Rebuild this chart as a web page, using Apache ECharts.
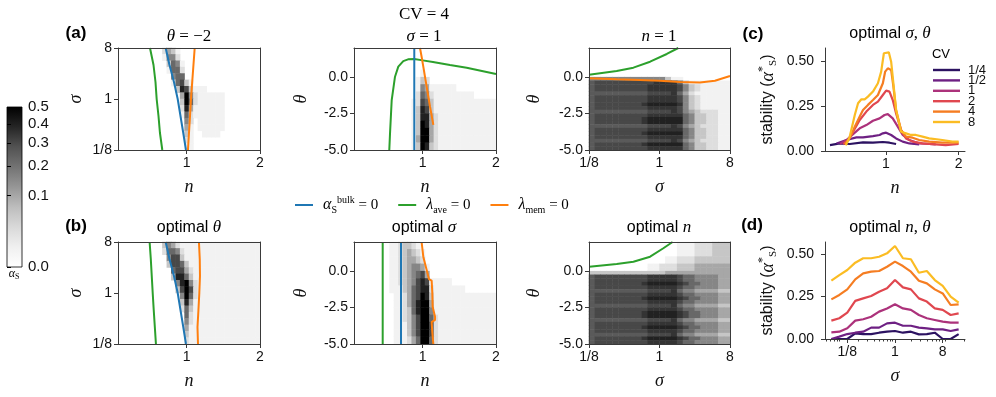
<!DOCTYPE html>
<html>
<head>
<meta charset="utf-8">
<title>stability maps, CV = 4</title>
<script src="https://cdn.jsdelivr.net/npm/echarts@6.0.0/dist/echarts.min.js"></script>
<style>
  body { margin: 0; background: #fff; }
  #main { width: 996px; height: 397px; }
</style>
</head>
<body>
<div id="main"></div>
<script>
// ---------- data ----------
// heat maps: one string per row (top row first), one char per cell = grey level
// '0'..'9' whole levels, 'a'..'i' half levels (a = 0.5 ... i = 8.5)
var a1Rows = [
  '0000000000' + '2431',
  '0000000000' + '1552',
  '00000000000' + '3651',
  '00000000000' + '1662',
  '000000000000' + '566',
  '000000000000' + '16731',
  '0000000000000' + '3873111',
  '00000000000000' + '4952' + '111111',
  '00000000000000' + '3962' + '111111',
  '00000000000000' + '284' + '1111111',
  '00000000000000' + '162' + '1111111',
  '000000000000000' + '52' + '0111111',
  '000000000000000' + '41' + '0111111',
  '000000000000000' + '31' + '001111',
  '000000000000000' + '21',
  '000000000000000' + '11'
];
var b1Rows = [
  '0000000000' + '35421' + '11111111111111111',
  '0000000000' + '26652' + '11111111111111111',
  '00000000000' + '5773' + '11111111111111111',
  '00000000000' + '37763' + '1111111111111111',
  '000000000000' + '67742' + '111111111111111',
  '000000000000' + '38863' + '111111111111111',
  '0000000000000' + '58952' + '11111111111111',
  '0000000000000' + '37972' + '11111111111111',
  '00000000000000' + '5962' + '11111111111111',
  '00000000000000' + '3841' + '11111111111111',
  '00000000000000' + '263' + '111111111111111',
  '000000000000000' + '62' + '111111111111111',
  '000000000000000' + '52' + '111111111111111',
  '000000000000000' + '41' + '111111111111111',
  '000000000000000' + '31' + '111111111111111',
  '000000000000000' + '21' + '111111111111111'
];
var a2Rows = [
  '', '', '',
  '000000000000000' + '1',
  '00000000000000' + '132',
  '00000000000000' + '1541' + '11111',
  '00000000000000' + '2652' + '111111111',
  '0000000000000' + '1' + '2763' + '11111111111111',
  '0000000000000' + '1' + '3873' + '11111111111111',
  '0000000000000' + '1' + '3884' + '2' + '1111111111111',
  '0000000000000' + '1' + '3984' + '2' + '1111111111111',
  '0000000000000' + '1' + '3994' + '2' + '1111111111111',
  '0000000000000' + '1' + '4994' + '2' + '1111111111111',
  '0000000000000' + '1' + '3983' + '2' + '1111111111111'
];
var b2Rows = [
  '00000000' + '1123321',
  '00000000' + '11234321',
  '00000000' + '11234432',
  '00000000' + '112345541',
  '00000000' + '112345674',
  '00000000' + '1123457871' + '1111',
  '00000000' + '111346788' + '2' + '1111111',
  '000000000' + '1' + '1246798' + '3' + '11111111111111',
  '000000000' + '1' + '1246899' + '4' + '11111111111111',
  '000000000' + '11' + '236899' + '5' + '11111111111111',
  '000000000' + '11' + '235799' + '6' + '2' + '1111111111111',
  '000000000' + '11' + '135799' + '7' + '2' + '1111111111111',
  '000000000' + '11' + '135799' + '7' + '2' + '1111111111111',
  '000000000' + '11' + '124699' + '6' + '2' + '1111111111111'
];
var a3Rows = [
  '', '', '', '', '', '', '', '',
  '5555555555555311',
  'g7777777777hhhh631111111',
  'g777777777hhhhh753211111',
  'g777777777hhhhh753211111',
  'gggggggggg7777h642111111',
  'g777777777hhhhh753211111',
  'g777777777hhhhh753211111',
  'g77777777h88888h53211111',
  'g777777777hhhhh753211111',
  'gggggggggg7777h754322211',
  'g777777777hhhhhh65332211',
  'g77777777h88888865332211',
  'g77777777h88888865332211',
  'gggggggggg7777h754322211',
  'g777777777hhhhhh65332211',
  'g77777777h88888865332211',
  'g777777777hhhhhh65332211',
  'gggggggggg7777h754322211',
  'g77777777h88888865332211',
  'g777777777hhhhhh65332211'
];
var b3Rows = [
  '000000000000000111222333',
  '000000000000000111222333',
  '000000000000000111222333',
  '000000000000000111222333',
  '000000000000011222333333',
  '000000000000011222333333',
  '000000000011222333444444',
  '000000000011222333444444',
  '333333333333344444444444',
  'g777777777hhhhh766555544',
  'g777777777hhhhh766555544',
  'g77777777h88888h76655544',
  'g777777777hhhhh766555544',
  'gggggggggg7777h655444433',
  'g777777777hhhhh766555544',
  'g77777777h88888h76655544',
  'g777777777hhhhh766555544',
  'gggggggggg7777h655444433',
  'g777777777hhhhh766555544',
  'g77777777h88888h76655544',
  'g77777777h88888h76655544',
  'gggggggggg7777h655444433',
  'g777777777hhhhh766555544',
  'g77777777h88888h76655544',
  'g777777777hhhhh766555544',
  'gggggggggg7777h655444433',
  'g77777777h88888h76655544',
  'g777777777hhhhh766555544'
];

// boundary curves, top row (sigma vs n)
var sigmaPts = [8, 4, 2, 1, 0.5, 0.25, 0.125];
var a1GreenN = [0.499, 0.547, 0.574, 0.590, 0.615, 0.635, 0.667];
var bulkN = [0.713, 0.765, 0.826, 0.877, 0.915, 0.953, 0.990];
var a1OrangeN = [1.109, 1.092, 1.075, 1.058, 1.045, 1.031, 1.017];
var b1GreenN = [0.494, 0.510, 0.523, 0.536, 0.550, 0.565, 0.580];
var b1OrangeN = [1.167, 1.178, 1.181, 1.172, 1.160, 1.147, 1.154];

// boundary curves, theta vs n
var a2BlueN = [0.885, 0.885], a2BlueTheta = [-5, 2];
var a2GreenN = [0.544, 0.554, 0.577, 0.622, 0.667, 0.735, 0.80, 0.885, 1.0, 1.14, 1.372, 1.6, 2.0];
var a2GreenTheta = [-5, -3.86, -1.57, 0.03, 0.72, 1.1, 1.22, 1.24, 1.15, 1.04, 0.83, 0.65, 0.22];
var a2OrangeN = [0.963, 0.985, 1.008, 1.054, 1.10, 1.145];
var a2OrangeTheta = [2, 1.4, 0.72, -0.66, -2.03, -3.28];
var b2GreenN = [0.454, 0.454], b2GreenTheta = [-5, 2];
var b2BlueN = [0.704, 0.704], b2BlueTheta = [-5, 2];
var b2OrangeN = [0.985, 1.008, 1.054, 1.086, 1.122, 1.131, 1.136, 1.168, 1.168, 1.122, 1.131, 1.145];
var b2OrangeTheta = [2, 0.99, 0.08, -0.55, -0.65, -1.5, -2.44, -3.13, -3.35, -3.5, -4.2, -5];

// boundary curves, theta vs sigma
var a3GreenSigma = [0.125, 0.283, 0.463, 0.758, 1.24, 1.74];
var a3GreenTheta = [0.17, 0.42, 0.65, 1.06, 1.59, 2.0];
var a3OrangeSigma = [0.125, 0.283, 0.56, 1.01, 1.83, 3.29, 5.13, 8];
var a3OrangeTheta = [-0.08, -0.15, -0.2, -0.25, -0.33, -0.36, -0.25, 0.08];
var b3GreenSigma = [0.126, 0.283, 0.463, 0.758, 1.12, 1.47];
var b3GreenTheta = [0.30, 0.49, 0.65, 0.99, 1.57, 2.0];

// panel (c): stability vs n, one line per CV
var cvNames = ['1/4', '1/2', '1', '2', '4', '8'];
var cvColors = ['#2c1261', '#6e2083', '#ac327b', '#e0474f', '#f57d22', '#fbbc23'];
var cN1_4 = [0.231, 0.367, 0.503, 0.685, 0.822, 0.958, 1.049, 1.14];
var cV1_4 = [0.033, 0.042, 0.039, 0.048, 0.046, 0.05, 0.046, 0.039];
var cN1_2 = [0.322, 0.458, 0.594, 0.685, 0.822, 0.913, 0.958, 1.003, 1.072, 1.14, 1.231, 1.322, 1.458];
var cV1_2 = [0.042, 0.061, 0.076, 0.076, 0.083, 0.089, 0.098, 0.102, 0.089, 0.07, 0.052, 0.042, 0.037];
var cN1 = [0.367, 0.458, 0.549, 0.64, 0.731, 0.822, 0.913, 0.981, 1.026, 1.094, 1.163, 1.231, 1.322, 1.458, 1.594, 1.685];
var cV1 = [0.039, 0.061, 0.094, 0.126, 0.144, 0.168, 0.181, 0.2, 0.205, 0.181, 0.135, 0.089, 0.061, 0.042, 0.039, 0.037];
var cN2 = [0.413, 0.481, 0.549, 0.64, 0.731, 0.822, 0.89, 0.958, 1.003, 1.049, 1.094, 1.14, 1.208, 1.276, 1.367, 1.503, 1.685, 1.822, 2.0];
var cV2 = [0.037, 0.061, 0.107, 0.172, 0.219, 0.256, 0.274, 0.311, 0.335, 0.33, 0.283, 0.209, 0.117, 0.07, 0.052, 0.042, 0.037, 0.033, 0.039];
var cN4 = [0.435, 0.503, 0.572, 0.64, 0.685, 0.753, 0.822, 0.89, 0.958, 0.99, 1.026, 1.072, 1.103, 1.14, 1.208, 1.276, 1.367, 1.458, 1.594, 1.776, 2.0];
var cV4 = [0.039, 0.07, 0.135, 0.191, 0.228, 0.256, 0.283, 0.311, 0.376, 0.441, 0.459, 0.45, 0.357, 0.228, 0.117, 0.08, 0.074, 0.061, 0.052, 0.046, 0.046];
var cN8 = [0.449, 0.503, 0.572, 0.617, 0.663, 0.708, 0.753, 0.822, 0.89, 0.935, 0.972, 1.04, 1.072, 1.103, 1.14, 1.208, 1.276, 1.344, 1.413, 1.503, 1.594, 1.776, 1.913, 2.0];
var cV8 = [0.031, 0.08, 0.2, 0.265, 0.287, 0.287, 0.302, 0.33, 0.376, 0.441, 0.543, 0.548, 0.496, 0.376, 0.228, 0.107, 0.098, 0.089, 0.089, 0.08, 0.07, 0.061, 0.052, 0.052];

// panel (d): stability vs sigma
var dSigma = [0.0625, 0.0884, 0.125, 0.177, 0.25, 0.354, 0.5, 0.707, 1, 1.414, 2, 2.83, 4, 5.66, 8, 11.3, 16];
var dV1_4 = [0, 0, 0, 0.033, 0.029, 0.029, 0.037, 0.043, 0.047, 0.037, 0.043, 0.027, 0.029, 0.037, 0, 0, 0.029];
var dV1_2 = [0, 0.014, 0.029, 0.037, 0.043, 0.067, 0.067, 0.092, 0.096, 0.078, 0.078, 0.067, 0.063, 0.057, 0.057, 0.047, 0.057];
var dV1 = [0.039, 0.043, 0.063, 0.108, 0.116, 0.131, 0.161, 0.18, 0.204, 0.18, 0.171, 0.141, 0.122, 0.112, 0.102, 0.096, 0.096];
var dV2 = [0.108, 0.122, 0.155, 0.224, 0.239, 0.253, 0.278, 0.298, 0.347, 0.304, 0.292, 0.239, 0.22, 0.18, 0.171, 0.141, 0.151];
var dV4 = [0.233, 0.259, 0.292, 0.351, 0.386, 0.396, 0.4, 0.425, 0.455, 0.429, 0.396, 0.343, 0.327, 0.292, 0.268, 0.2, 0.204];
var dV8 = [0.343, 0.376, 0.406, 0.449, 0.475, 0.475, 0.484, 0.504, 0.547, 0.475, 0.469, 0.39, 0.4, 0.347, 0.312, 0.249, 0.214];

// tick values
var nTicks = [1, 2];
var sigmaTicks = [0.125, 1, 8];
var thetaTicks = [-5, -2.5, 0];
var stabTicks = [0, 0.25, 0.5];
var cbTicks = [0, 0.1, 0.2, 0.3, 0.4, 0.5];
var dMinorTicks = [0.05, 0.06, 0.07, 0.08, 0.09, 0.2, 0.3, 0.4, 0.5, 0.6, 0.7, 0.8, 0.9, 2, 3, 4, 5, 6, 7, 9, 20];

// ---------- helpers ----------
var AX = '#3a3a3a', TXT = '#111';
var SANS = 'Liberation Sans, Arial, sans-serif';
var SERIF = 'Liberation Serif, DejaVu Serif, serif';
var C_BULK = '#1f77b4', C_AVE = '#2ca02c', C_MEM = '#ff7f0e';
var GREYS = ['#ffffff', '#f0f0f0', '#d9d9d9', '#bdbdbd', '#969696', '#737373', '#525252', '#252525', '#000000'];

function lg2(s) { return Math.log(s) / Math.LN2; }
function zip(xs, ys, fx, fy) {
  return xs.map(function (x, i) {
    return [fx ? fx(x) : x, fy ? fy(ys[i]) : ys[i]];
  });
}
function charLevel(ch) {
  if (!ch) return 0;
  var code = ch.charCodeAt(0);
  if (code >= 97 && code <= 105) return code - 97 + 0.5;   // 'a'..'i'
  return +ch || 0;
}
// grey level -> alpha_S (colour norm is a square root over 0..0.5)
function levelToAlpha(d) { return 0.5 * (d / 9) * (d / 9); }
function cells(rows, nCols) {
  var out = [];
  for (var r = 0; r < rows.length; r++) {
    for (var c = 0; c < nCols; c++) {
      var d = charLevel(rows[r].charAt(c));
      if (d > 0) out.push([c, rows.length - 1 - r, levelToAlpha(d)]);
    }
  }
  return out;
}
function greyAt(t) {
  var p = Math.min(t, 1) * 8, i = Math.min(7, Math.floor(p)), f = p - i;
  var a = parseInt(GREYS[i].slice(1, 3), 16), b = parseInt(GREYS[i + 1].slice(1, 3), 16);
  var g = Math.round(a + (b - a) * f);
  return 'rgb(' + g + ',' + g + ',' + g + ')';
}
var vmColors = [];
for (var k = 0; k <= 80; k++) vmColors.push(greyAt(Math.sqrt(k / 80)));

var fmtN = function (v) { return String(Math.round(v)); };
var fmtSig = function (v) {
  return v < 0 ? '1/' + Math.round(Math.pow(2, -v)) : String(Math.round(Math.pow(2, v)));
};
var fmtTheta = function (v) { return v.toFixed(1); };
var fmtStab = function (v) { return v.toFixed(2); };

var grids = [], xAxes = [], yAxes = [], series = [], heatIdx = [];

function addGrid(box) {
  box.outerBoundsMode = 'none';
  box.containLabel = false;
  grids.push(box);
  return grids.length - 1;
}
function valAxis(gi, pos, min, max, ticks, fmt, name, gap) {
  return {
    type: 'value', gridIndex: gi, position: pos, min: min, max: max, z: 10,
    name: name, nameLocation: 'middle', nameGap: gap,
    nameTextStyle: { fontFamily: SERIF, fontStyle: 'italic', fontSize: 18, color: TXT },
    axisLine: { show: true, onZero: false, lineStyle: { color: AX, width: 1 } },
    axisTick: { show: true, length: 4, customValues: ticks, lineStyle: { color: AX } },
    axisLabel: { show: true, customValues: ticks, formatter: fmt, fontFamily: SANS, fontSize: 14, color: TXT, margin: 6 },
    splitLine: { show: false }
  };
}
function catAxis(gi, pos, count) {
  var idx = [];
  for (var i = 0; i < count; i++) idx.push(String(i));
  return {
    type: 'category', gridIndex: gi, position: pos, data: idx, boundaryGap: true, z: 10,
    axisLine: { show: true, onZero: false, lineStyle: { color: AX, width: 1 } },
    axisTick: { show: false }, axisLabel: { show: false }, splitLine: { show: false }
  };
}
function line(name, xi, yi, pts, color, w) {
  return {
    type: 'line', name: name, xAxisIndex: xi, yAxisIndex: yi, data: pts,
    showSymbol: false, symbol: 'none', clip: true, silent: true, z: 3,
    lineStyle: { color: color, width: w || 2 }, itemStyle: { color: color }
  };
}
function heatPanel(box, rows, nCols, xAx, yAx) {
  var gi = addGrid(box);
  xAx.gridIndex = gi; yAx.gridIndex = gi;
  var xi = xAxes.push(xAx) - 1;
  var yi = yAxes.push(yAx) - 1;
  var cxi = xAxes.push(catAxis(gi, 'top', nCols)) - 1;
  var cyi = yAxes.push(catAxis(gi, 'right', rows.length)) - 1;
  heatIdx.push(series.length);
  series.push({
    type: 'heatmap', xAxisIndex: cxi, yAxisIndex: cyi, data: cells(rows, nCols),
    silent: true, progressive: 0, z: 1, itemStyle: { borderWidth: 0 }, emphasis: { disabled: true }
  });
  return { xi: xi, yi: yi };
}

// ---------- panels ----------
var BOX = {
  a1: { left: 118, top: 48, width: 142, height: 102 },
  a2: { left: 354, top: 48, width: 142, height: 102 },
  a3: { left: 589, top: 48, width: 141, height: 102 },
  b1: { left: 118, top: 242, width: 142, height: 102 },
  b2: { left: 354, top: 242, width: 142, height: 102 },
  b3: { left: 589, top: 242, width: 141, height: 102 },
  c: { left: 825, top: 48, width: 140, height: 103 },
  d: { left: 825, top: 242, width: 140, height: 97 }
};

function nAx() { return valAxis(0, 'bottom', 0.0625, 2, nTicks, fmtN, 'n', 28); }
function sigXAx() { return valAxis(0, 'bottom', -3, 3, sigmaTicks.map(lg2), fmtSig, 'σ', 28); }
function sigYAx() { return valAxis(0, 'left', -3, 3, sigmaTicks.map(lg2), fmtSig, 'σ', 33); }
function thYAx(gap) { return valAxis(0, 'left', -5, 2, thetaTicks, fmtTheta, 'θ', gap); }

var p = heatPanel(BOX.a1, a1Rows, 32, nAx(), sigYAx());
series.push(line('ave', p.xi, p.yi, zip(a1GreenN, sigmaPts, null, lg2), C_AVE));
series.push(line('bulk', p.xi, p.yi, zip(bulkN, sigmaPts, null, lg2), C_BULK));
series.push(line('mem', p.xi, p.yi, zip(a1OrangeN, sigmaPts, null, lg2), C_MEM));

p = heatPanel(BOX.a2, a2Rows, 32, nAx(), thYAx(44));
series.push(line('ave', p.xi, p.yi, zip(a2GreenN, a2GreenTheta), C_AVE));
series.push(line('bulk', p.xi, p.yi, zip(a2BlueN, a2BlueTheta), C_BULK));
series.push(line('mem', p.xi, p.yi, zip(a2OrangeN, a2OrangeTheta), C_MEM));

p = heatPanel(BOX.a3, a3Rows, 24, sigXAx(), thYAx(46));
series.push(line('ave', p.xi, p.yi, zip(a3GreenSigma, a3GreenTheta, lg2), C_AVE));
series.push(line('mem', p.xi, p.yi, zip(a3OrangeSigma, a3OrangeTheta, lg2), C_MEM));

p = heatPanel(BOX.b1, b1Rows, 32, nAx(), sigYAx());
series.push(line('ave', p.xi, p.yi, zip(b1GreenN, sigmaPts, null, lg2), C_AVE));
series.push(line('bulk', p.xi, p.yi, zip(bulkN, sigmaPts, null, lg2), C_BULK));
series.push(line('mem', p.xi, p.yi, zip(b1OrangeN, sigmaPts, null, lg2), C_MEM));

p = heatPanel(BOX.b2, b2Rows, 32, nAx(), thYAx(44));
series.push(line('ave', p.xi, p.yi, zip(b2GreenN, b2GreenTheta), C_AVE));
series.push(line('bulk', p.xi, p.yi, zip(b2BlueN, b2BlueTheta), C_BULK));
series.push(line('mem', p.xi, p.yi, zip(b2OrangeN, b2OrangeTheta), C_MEM));

p = heatPanel(BOX.b3, b3Rows, 24, sigXAx(), thYAx(46));
series.push(line('ave', p.xi, p.yi, zip(b3GreenSigma, b3GreenTheta, lg2), C_AVE));

// stability label used by (c) and (d)
var stabName = '{r|stability (}{i|α}{sp|*}{sb|S}{r|)}';
var stabRich = {
  r: { fontFamily: SANS, fontSize: 16, color: TXT, lineHeight: 22 },
  i: { fontFamily: SERIF, fontStyle: 'italic', fontSize: 18, color: TXT, lineHeight: 22 },
  sp: { fontFamily: SERIF, fontSize: 12, color: TXT, verticalAlign: 'top', lineHeight: 12 },
  sb: { fontFamily: SERIF, fontSize: 11, color: TXT, verticalAlign: 'bottom', lineHeight: 10 }
};
function stabAx(gi, max) {
  var a = valAxis(gi, 'left', 0, max, stabTicks, fmtStab, stabName, 46);
  a.nameTextStyle = { rich: stabRich };
  a.axisLabel.margin = 11;
  return a;
}

// (c)
var gc = addGrid(BOX.c);
var cxi = xAxes.push(valAxis(gc, 'bottom', 0.1625, 2.0875, nTicks, fmtN, 'n', 28)) - 1;
var cyi = yAxes.push(stabAx(gc, 0.572)) - 1;
var cSets = [[cN1_4, cV1_4], [cN1_2, cV1_2], [cN1, cV1], [cN2, cV2], [cN4, cV4], [cN8, cV8]];
cSets.forEach(function (s, i) {
  series.push(line(cvNames[i], cxi, cyi, zip(s[0], s[1]), cvColors[i], 2.2));
});

// (d)
var gd = addGrid(BOX.d);
var dxi = xAxes.push(valAxis(gd, 'bottom', -4.4, 4.4, sigmaTicks.map(lg2), fmtSig, 'σ', 28)) - 1;
xAxes.push({
  type: 'value', gridIndex: gd, position: 'bottom', min: -4.4, max: 4.4, z: 9,
  axisLine: { show: false }, axisLabel: { show: false }, splitLine: { show: false },
  axisTick: { show: true, length: 2.5, customValues: dMinorTicks.map(lg2), lineStyle: { color: AX } }
});
var dyi = yAxes.push(stabAx(gd, 0.5706)) - 1;
var dSets = [dV1_4, dV1_2, dV1, dV2, dV4, dV8];
dSets.forEach(function (v, i) {
  series.push(line(cvNames[i], dxi, dyi, zip(dSigma, v, lg2), cvColors[i], 2.2));
});

// colour bar axis
var gcb = addGrid({ left: 7, top: 107, width: 15, height: 160 });
var cbPos = cbTicks.map(function (v) { return Math.sqrt(v / 0.5); });
xAxes.push({ type: 'value', gridIndex: gcb, show: false, min: 0, max: 1 });
yAxes.push({
  type: 'value', gridIndex: gcb, position: 'right', min: 0, max: 1, z: 10,
  axisLine: { show: false }, splitLine: { show: false },
  axisTick: { show: true, length: 4, customValues: cbPos, lineStyle: { color: '#000' } },
  axisLabel: {
    show: true, customValues: cbPos,
    formatter: function (t) { return (0.5 * t * t).toFixed(1); },
    fontFamily: SANS, fontSize: 15, color: TXT, margin: 6
  }
});

// ---------- text ----------
var RICH = {
  i: { fontFamily: SERIF, fontStyle: 'italic', fontSize: 17, fill: '#000', color: '#000' },
  r: { fontFamily: SERIF, fontSize: 17, fill: '#000', color: '#000' },
  s: { fontFamily: SANS, fontSize: 16, fill: '#000', color: '#000' }
};
function txt(x, y, text, extra) {
  var st = {
    text: text, rich: RICH, fill: '#000',
    align: 'center', verticalAlign: 'middle', textAlign: 'center', textVerticalAlign: 'middle'
  };
  if (extra) for (var key in extra) st[key] = extra[key];
  return { type: 'text', x: x, y: y, silent: true, style: st };
}
var bold = { font: 'bold 17px ' + SANS };
var graphics = [
  txt(76, 33, '(a)', bold),
  txt(76, 226, '(b)', bold),
  txt(753, 34, '(c)', bold),
  txt(752, 225, '(d)', bold),
  txt(189, 37, '{i|θ}{r| = −2}'),
  txt(424, 15, '{r|CV = 4}'),
  txt(424, 37, '{i|σ}{r| = 1}'),
  txt(659, 37, '{i|n}{r| = 1}'),
  txt(890, 34, '{s|optimal }{i|σ}{r|, }{i|θ}'),
  txt(189, 228, '{s|optimal }{i|θ}'),
  txt(424, 228, '{s|optimal }{i|σ}'),
  txt(659, 228, '{s|optimal }{i|n}'),
  txt(890, 228, '{s|optimal }{i|n}{r|, }{i|θ}'),
  txt(941, 54, 'CV', { font: '13px ' + SANS }),
  txt(14, 274, '{ia|α}{sb|S}', {
    rich: {
      ia: { fontFamily: SERIF, fontStyle: 'italic', fontSize: 12, lineHeight: 14 },
      sb: { fontFamily: SERIF, fontSize: 8, verticalAlign: 'bottom', lineHeight: 8 }
    }
  }),
  {
    type: 'rect', silent: true, z: 0,
    shape: { x: 7, y: 107, width: 15, height: 160 },
    style: {
      fill: new echarts.graphic.LinearGradient(0, 1, 0, 0, GREYS.map(function (c, i) {
        return { offset: i / 8, color: c };
      })),
      stroke: '#000', lineWidth: 0.8
    }
  }
];

var legendText = {
  bulk: '{i|α}{sb|S}{sp|bulk}{r| = 0}',
  ave: '{i|λ}{sb|ave}{r| = 0}',
  mem: '{i|λ}{sb|mem}{r| = 0}'
};

var chart = echarts.init(document.getElementById('main'), null, { renderer: 'canvas' });
chart.setOption({
  animation: false,
  backgroundColor: '#fff',
  grid: grids,
  xAxis: xAxes,
  yAxis: yAxes,
  visualMap: {
    type: 'continuous', show: false, min: 0, max: 0.5, dimension: 2,
    seriesIndex: heatIdx, inRange: { color: vmColors }
  },
  legend: [{
    data: ['bulk', 'ave', 'mem'], left: 295, top: 195, padding: 0, icon: 'rect',
    itemWidth: 18, itemHeight: 2, itemGap: 20, selectedMode: false,
    formatter: function (name) { return legendText[name]; },
    textStyle: {
      padding: [0, 0, 0, 5],
      rich: {
        i: { fontFamily: SERIF, fontStyle: 'italic', fontSize: 16, color: '#000', lineHeight: 20 },
        r: { fontFamily: SERIF, fontSize: 15, color: '#000', lineHeight: 20 },
        sb: { fontFamily: SERIF, fontSize: 10, color: '#000', verticalAlign: 'bottom', lineHeight: 12 },
        sp: { fontFamily: SERIF, fontSize: 10, color: '#000', verticalAlign: 'top', lineHeight: 12 }
      }
    }
  }, {
    data: cvNames, orient: 'vertical', left: 933, top: 61, padding: 0, icon: 'rect',
    itemWidth: 27, itemHeight: 2.4, itemGap: -7.6, selectedMode: false,
    textStyle: { fontFamily: SANS, fontSize: 13, color: TXT, lineHeight: 13, padding: [5, 0, 0, 3] }
  }],
  graphic: graphics,
  series: series
});
</script>
</body>
</html>
